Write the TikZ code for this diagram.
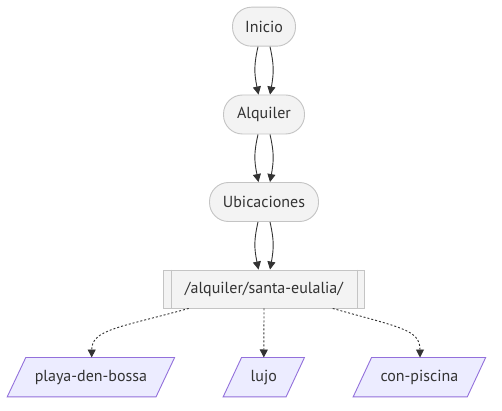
\documentclass[tikz,border=0pt]{standalone}
\usepackage{fontspec}
\setmainfont{PT Sans}
\usetikzlibrary{arrows.meta,calc}
\definecolor{gfill}{HTML}{F3F3F3}
\definecolor{gline}{HTML}{C4C4C4}
\definecolor{pfill}{HTML}{ECECFF}
\definecolor{pline}{HTML}{9370DB}
\definecolor{txt}{HTML}{333333}
\definecolor{edge}{HTML}{333333}
\tikzset{
  term/.style={draw=gline, fill=gfill, line width=0.9pt, rounded corners=19pt,
    minimum height=39pt, inner sep=0pt, text=txt, font=\fontsize{16}{19}\selectfont},
  subr/.style={draw=gline, fill=gfill, line width=0.9pt, minimum height=38pt,
    inner sep=0pt, text=txt, font=\fontsize{16}{19}\selectfont},
  iobox/.style={minimum height=39pt, inner sep=0pt, text=txt, font=\fontsize{16}{19}\selectfont},
  para/.style={draw=pline, fill=pfill, line width=0.9pt},
  solidarrow/.style={draw=edge, line width=0.9pt, -{Triangle[length=8pt,width=8pt]}},
  dotarrow/.style={draw=edge, line width=0.9pt, dash pattern=on 2pt off 2pt, -{Triangle[length=8pt,width=8pt]}},
}
\begin{document}
\begin{tikzpicture}[x=1pt,y=-1pt]
\useasboundingbox[fill=white] (0,0) rectangle (502,411);
\node[term, minimum width=63pt] (ini) at (264,26.7) {Inicio};
\node[term, minimum width=81pt] (alq) at (264,114.5) {Alquiler};
\node[term, minimum width=109pt] (ubi) at (264,202) {Ubicaciones};
\node[subr, minimum width=201pt] (sub) at (264,289) {/alquiler/santa-eulalia/};
\draw[gline, line width=0.9pt] ($(sub.north west)+(8,0)$) -- ($(sub.south west)+(8,0)$);
\draw[gline, line width=0.9pt] ($(sub.north east)+(-8,0)$) -- ($(sub.south east)+(-8,0)$);

% parallelograms
\newcommand{\paradraw}[2]{%
  \fill[pfill] ($(#1.north west)+(#2,0)$) -- ($(#1.north east)+(#2,0)$) -- ($(#1.south east)+(-#2,0)$) -- ($(#1.south west)+(-#2,0)$) -- cycle;
  \draw[para] ($(#1.north west)+(#2,0)$) -- ($(#1.north east)+(#2,0)$) -- ($(#1.south east)+(-#2,0)$) -- ($(#1.south west)+(-#2,0)$) -- cycle;
  \node[iobox] at (#1.center) {\csname ptxt#1\endcsname};}
\node[iobox, minimum width=148.4pt] (pdb) at (90.9,377.2) {};
\node[iobox, minimum width=62.5pt] (luj) at (263.8,377.2) {};
\node[iobox, minimum width=113.7pt] (con) at (419.4,377.2) {};
\expandafter\def\csname ptxtpdb\endcsname{playa-den-bossa}
\expandafter\def\csname ptxtluj\endcsname{lujo}
\expandafter\def\csname ptxtcon\endcsname{con-piscina}
\paradraw{pdb}{9.3}
\paradraw{luj}{9.2}
\paradraw{con}{9.2}

% double solid arrows
\foreach \a/\b in {ini/alq, alq/ubi, ubi/sub}{
  \draw[solidarrow] ($(\a.south)+(-6,0)$) .. controls ($(\a.south)+(-10,18)$) and ($(\b.north)+(-10,-22)$) .. ($(\b.north)+(-5.5,0)$);
  \draw[solidarrow] ($(\a.south)+(6,0)$) .. controls ($(\a.south)+(10,18)$) and ($(\b.north)+(10,-22)$) .. ($(\b.north)+(6,0)$);
}

% dotted arrows
\draw[dotarrow] ($(sub.south)+(-75.3,0)$) .. controls ($(sub.south)+(-144,19)$) and ($(pdb.north)+(0.8,-28)$) .. ($(pdb.north)+(0.8,0)$);
\draw[dotarrow] (sub.south) -- (luj.north);
\draw[dotarrow] ($(sub.south)+(68.7,0)$) .. controls ($(sub.south)+(136,19)$) and ($(con.north)+(0.6,-28)$) .. ($(con.north)+(0.6,0)$);
\end{tikzpicture}
\end{document}
